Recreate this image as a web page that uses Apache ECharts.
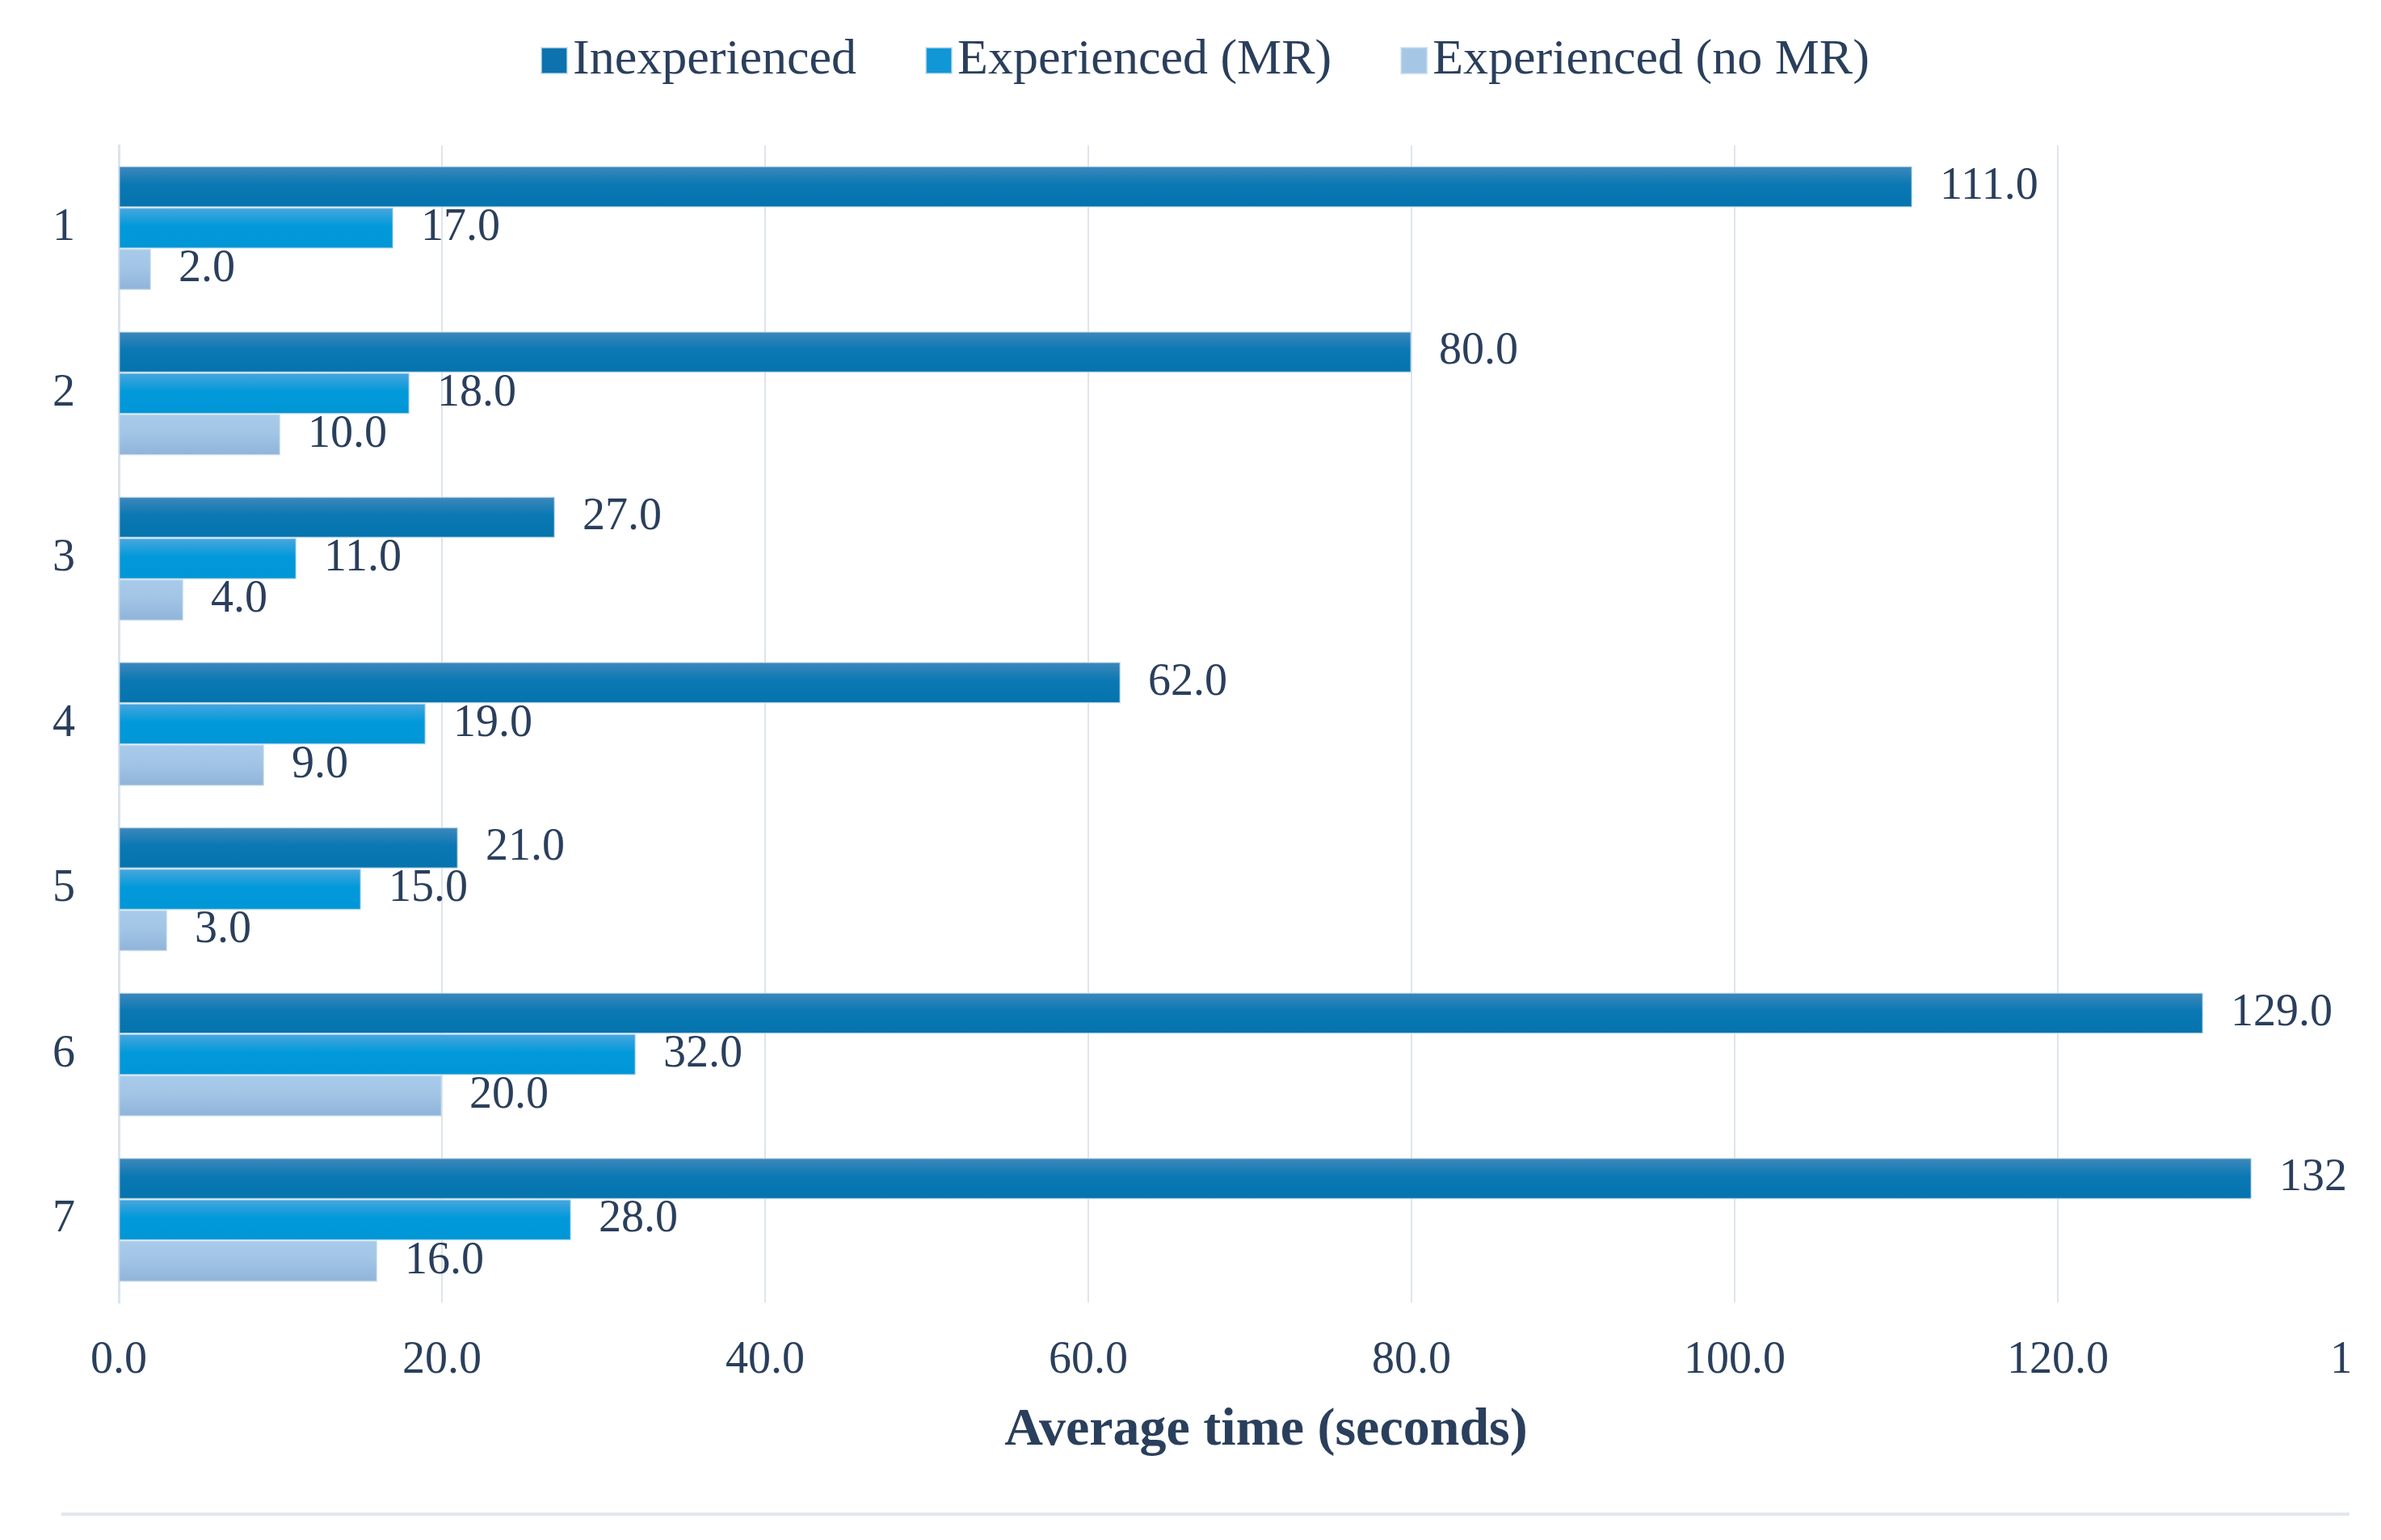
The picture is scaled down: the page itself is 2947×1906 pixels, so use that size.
<!DOCTYPE html>
<html>
<head>
<meta charset="utf-8">
<script src="https://cdn.jsdelivr.net/npm/echarts@6/dist/echarts.min.js"></script>
<style>html,body{margin:0;padding:0;background:#fff}#c{width:2947px;height:1906px}</style>
</head>
<body>
<div id="c"></div>
<script>
const categories = ['1', '2', '3', '4', '5', '6', '7'];
const seriesNames = ['Inexperienced', 'Experienced (MR)', 'Experienced (no MR)'];
const inexperienced = [111, 80, 27, 62, 21, 129, 132];
const experiencedMR = [17, 18, 11, 19, 15, 32, 28];
const experiencedNoMR = [2, 10, 4, 9, 3, 20, 16];
const xTicks = {min: 0, max: 140, interval: 20};

const FONT = '"Liberation Serif", "Times New Roman", serif';
const TEXT = '#2a3f5c';

function grad(top, mid, bottom) {
  return new echarts.graphic.LinearGradient(0, 0, 0, 1, [
    {offset: 0, color: top},
    {offset: 0.45, color: mid},
    {offset: 1, color: bottom}
  ]);
}
const fills = [
  grad('#3f88bb', '#0a78b3', '#0573ad'),
  grad('#4aa7de', '#0299da', '#0096d6'),
  grad('#a9cbea', '#a2c5e6', '#8fb4d9')
];
const legendColors = ['#0d72ae', '#1196d6', '#a6c6e6'];

const chart = echarts.init(document.getElementById('c'), null, {renderer: 'canvas'});
const values = [inexperienced, experiencedMR, experiencedNoMR];

chart.setOption({
  backgroundColor: '#ffffff',
  animation: false,
  legend: {
    top: 39,
    left: 664,
    itemWidth: 32,
    itemHeight: 32,
    itemGap: 85,
    icon: 'rect',
    textStyle: {fontFamily: FONT, fontSize: 62, color: TEXT, padding: [0, 0, 0, 2]},
    data: seriesNames.map((n, i) => ({name: n, itemStyle: {color: legendColors[i]}}))
  },
  grid: {left: 147, right: 0, top: 180, bottom: 294, containLabel: false, outerBoundsMode: 'none'},
  xAxis: {
    type: 'value',
    min: xTicks.min, max: xTicks.max, interval: xTicks.interval,
    axisLine: {show: false},
    axisTick: {show: false},
    splitLine: {show: true, lineStyle: {color: '#dfe4ec', width: 2}},
    axisLabel: {
      fontFamily: FONT, fontSize: 56, color: TEXT, margin: 44,
      formatter: v => v.toFixed(1)
    },
    name: 'Average time (seconds)',
    nameLocation: 'middle',
    nameGap: 126,
    nameTextStyle: {fontFamily: FONT, fontSize: 66, fontWeight: 'bold', color: TEXT, padding: [0, 0, 0, 40]}
  },
  yAxis: {
    type: 'category',
    data: categories,
    inverse: true,
    axisLine: {show: true, lineStyle: {color: '#dae4ee', width: 3}},
    axisTick: {show: false},
    axisLabel: {fontFamily: FONT, fontSize: 56, color: TEXT, margin: 54}
  },
  series: seriesNames.map((n, i) => ({
    name: n,
    type: 'bar',
    data: values[i],
    barGap: '0%',
    barCategoryGap: '25%',
    itemStyle: {color: fills[i], borderColor: 'rgba(200,222,240,0.7)', borderWidth: 1.5},
    label: {
      show: true, position: 'right', distance: 34,
      fontFamily: FONT, fontSize: 56, color: TEXT,
      formatter: p => p.value.toFixed(1)
    }
  })),
  graphic: [
    {type: 'line', z: 50, shape: {x1: 76, y1: 1874, x2: 2908, y2: 1874},
     style: {stroke: '#e2e7ed', lineWidth: 4}},
    {type: 'rect', zlevel: 5, z: 100, shape: {x: 2908, y: 0, width: 40, height: 1906},
     style: {fill: '#ffffff'}}
  ]
});
</script>
</body>
</html>
